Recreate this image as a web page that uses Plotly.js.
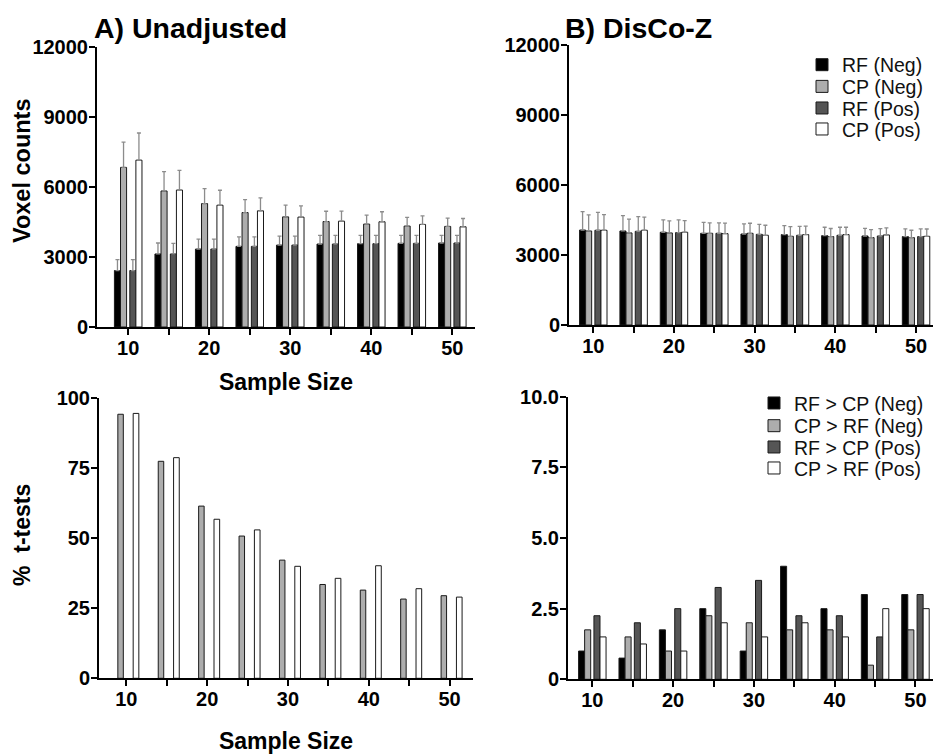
<!DOCTYPE html>
<html>
<head>
<meta charset="utf-8">
<script src="https://cdn.plot.ly/plotly-3.0.1.min.js"></script>
<style>html,body{margin:0;padding:0;background:#fff;}#chart{width:933px;height:755px;}</style>
</head>
<body>
<div id="chart"></div>
<script>
// ---------- data ----------
const sampleSizes = [10, 15, 20, 25, 30, 35, 40, 45, 50];
const noErr = [0, 0, 0, 0, 0, 0, 0, 0, 0];

// A) Unadjusted voxel counts (mean) and upper error
const aRfNeg    = [2420, 3130, 3340, 3455, 3510, 3555, 3570, 3585, 3600];
const aRfNegErr = [470, 470, 430, 410, 385, 370, 355, 340, 330];
const aCpNeg    = [6840, 5830, 5290, 4905, 4720, 4520, 4410, 4325, 4310];
const aCpNegErr = [1080, 825, 640, 555, 500, 440, 385, 370, 355];
const aRfPos    = [2420, 3130, 3340, 3455, 3510, 3555, 3570, 3585, 3600];
const aRfPosErr = [470, 450, 430, 410, 385, 370, 355, 340, 330];
const aCpPos    = [7150, 5870, 5220, 4980, 4710, 4535, 4510, 4395, 4295];
const aCpPosErr = [1165, 840, 640, 555, 485, 430, 430, 370, 355];

// B) DisCo-Z voxel counts
const bRfNeg    = [4070, 4030, 3975, 3930, 3900, 3875, 3830, 3815, 3790];
const bRfNegErr = [790, 660, 530, 470, 430, 385, 360, 330, 330];
const bCpNeg    = [4030, 3945, 3945, 3930, 3930, 3800, 3790, 3745, 3745];
const bCpNegErr = [690, 590, 515, 445, 430, 415, 345, 345, 315];
const bRfPos    = [4060, 4015, 3960, 3930, 3885, 3845, 3845, 3815, 3790];
const bRfPosErr = [770, 630, 545, 450, 430, 385, 345, 315, 330];
const bCpPos    = [4060, 4060, 3975, 3915, 3845, 3875, 3875, 3860, 3800];
const bCpPosErr = [670, 560, 500, 455, 430, 360, 315, 300, 315];

// C) Unadjusted % t-tests
const cCpRfNeg = [94.3, 77.5, 61.5, 50.8, 42.2, 33.5, 31.5, 28.3, 29.5];
const cCpRfPos = [94.6, 78.8, 56.8, 53.0, 40.0, 35.7, 40.2, 32.0, 29.0];

// D) DisCo-Z % t-tests
const dRfCpNeg = [1.0, 0.75, 1.75, 2.5, 1.0, 4.0, 2.5, 3.0, 3.0];
const dCpRfNeg = [1.75, 1.5, 1.0, 2.25, 2.0, 1.75, 1.75, 0.5, 1.75];
const dRfCpPos = [2.25, 2.0, 2.5, 3.25, 3.5, 2.25, 2.25, 1.5, 3.0];
const dCpRfPos = [1.5, 1.25, 1.0, 2.0, 1.5, 2.0, 1.5, 2.5, 2.5];

const xTickVals = [10, 20, 30, 40, 50];
const xMinorVals = [15, 25, 35, 45];
const voxelTicks = [0, 3000, 6000, 9000, 12000];
const voxelText = ['0', '3000', '6000', '9000', '12000'];
const pctTicksC = [0, 25, 50, 75, 100];
const pctTicksD = [0, 2.5, 5, 7.5, 10];
const pctTextD = ['0', '2.5', '5.0', '7.5', '10.0'];

// ---------- styles ----------
const FONT = 'Liberation Sans, Arial, Helvetica, sans-serif';
const C_BLACK = '#000000', C_LIGHT = '#adadad', C_DARK = '#555555', C_WHITE = '#ffffff';
const OUT = {color: '#1a1a1a', width: 1};
const W = 0.75;
const OFF = [-1.7, -0.95, 0.2, 0.95];

function errSpec(arr) {
  return {type: 'data', symmetric: false, array: arr, arrayminus: noErr,
          color: '#8c8c8c', thickness: 1.3, width: 2};
}
function bar(y, color, off, xa, ya, name, err, legend) {
  const t = {type: 'bar', x: sampleSizes, y: y, name: name, offset: off, width: W,
    marker: {color: color, line: OUT}, xaxis: xa, yaxis: ya,
    showlegend: !!legend, hoverinfo: 'skip'};
  if (err) t.error_y = errSpec(err);
  if (legend) t.legend = legend;
  return t;
}

const data = [
  bar(aRfNeg, C_BLACK, OFF[0], 'x', 'y', 'RF (Neg)', aRfNegErr),
  bar(aCpNeg, C_LIGHT, OFF[1], 'x', 'y', 'CP (Neg)', aCpNegErr),
  bar(aRfPos, C_DARK,  OFF[2], 'x', 'y', 'RF (Pos)', aRfPosErr),
  bar(aCpPos, C_WHITE, OFF[3], 'x', 'y', 'CP (Pos)', aCpPosErr),

  bar(bRfNeg, C_BLACK, OFF[0], 'x2', 'y2', 'RF (Neg)', bRfNegErr, 'legend'),
  bar(bCpNeg, C_LIGHT, OFF[1], 'x2', 'y2', 'CP (Neg)', bCpNegErr, 'legend2'),
  bar(bRfPos, C_DARK,  OFF[2], 'x2', 'y2', 'RF (Pos)', bRfPosErr, 'legend3'),
  bar(bCpPos, C_WHITE, OFF[3], 'x2', 'y2', 'CP (Pos)', bCpPosErr, 'legend4'),

  Object.assign(bar(cCpRfNeg, C_LIGHT, -1.05, 'x3', 'y3', 'CP > RF (Neg)'), {width: 0.68}),
  Object.assign(bar(cCpRfPos, C_WHITE, 0.85, 'x3', 'y3', 'CP > RF (Pos)'), {width: 0.7}),

  bar(dRfCpNeg, C_BLACK, OFF[0], 'x4', 'y4', 'RF > CP (Neg)', null, 'legend5'),
  bar(dCpRfNeg, C_LIGHT, OFF[1], 'x4', 'y4', 'CP > RF (Neg)', null, 'legend6'),
  bar(dRfCpPos, C_DARK,  OFF[2], 'x4', 'y4', 'RF > CP (Pos)', null, 'legend7'),
  bar(dCpRfPos, C_WHITE, OFF[3], 'x4', 'y4', 'CP > RF (Pos)', null, 'legend8')
];

const FW = 933, FH = 755;
const px = v => v / FW;
const py = v => 1 - v / FH;

const tickFont = {family: FONT, size: 20, color: '#000', weight: 'bold'};
const titleFont = {family: FONT, size: 23, color: '#000', weight: 'bold'};

function xAxis(dom, range, anchor, title, standoff) {
  const a = {domain: dom, range: range, anchor: anchor, showline: true, linewidth: 2, linecolor: '#000',
    showgrid: false, zeroline: false, tickmode: 'array', tickvals: xTickVals,
    ticks: 'outside', ticklen: 6, tickwidth: 2, tickcolor: '#000', tickfont: tickFont,
    ticklabelstandoff: -4,
    minor: {tickmode: 'array', tickvals: xMinorVals, ticks: 'outside', ticklen: 6, tickwidth: 2, tickcolor: '#000'},
    automargin: false, fixedrange: true};
  if (title) a.title = {text: title, font: titleFont, standoff: standoff};
  return a;
}
function yAxis(dom, range, anchor, vals, text) {
  return {domain: dom, range: range, anchor: anchor, showline: true, linewidth: 2, linecolor: '#000',
    showgrid: false, zeroline: false, tickmode: 'array', tickvals: vals, ticktext: text,
    ticks: 'outside', ticklen: 6, tickwidth: 2, tickcolor: '#000', tickfont: tickFont,
    ticklabelstandoff: -3,
    automargin: false, fixedrange: true};
}
function leg(textLeft, yCenter) {
  return {x: px(textLeft - 40), xanchor: 'left', y: py(yCenter), yanchor: 'middle',
          bgcolor: 'rgba(0,0,0,0)', borderwidth: 0,
          font: {family: FONT, size: 19.5, color: '#111'}};
}

const layout = {
  width: FW, height: FH,
  margin: {l: 0, r: 0, t: 0, b: 0, pad: 0},
  paper_bgcolor: '#fff', plot_bgcolor: '#fff',
  barmode: 'overlay',
  font: {family: FONT, color: '#000'},
  title: {text: 'A) Unadjusted', x: px(94), xanchor: 'left', xref: 'paper',
          y: py(28), yanchor: 'middle', yref: 'paper', automargin: false,
          font: {family: FONT, size: 28.5, color: '#000', weight: 'bold'}},
  xaxis:  xAxis([px(97), px(475)], [6.15, 52.8], 'y', 'Sample Size', 16),
  yaxis:  yAxis([py(327), py(47)], [0, 12000], 'x', voxelTicks, voxelText),
  xaxis2: xAxis([px(569), 1], [6.99, 52.1], 'y2'),
  yaxis2: yAxis([py(325), py(45)], [0, 12000], 'x2', voxelTicks, voxelText),
  xaxis3: xAxis([px(99), px(473)], [6.62, 52.9], 'y3', 'Sample Size', 24),
  yaxis3: yAxis([py(678.3), py(398.3)], [0, 100], 'x3', pctTicksC, ['0', '25', '50', '75', '100']),
  xaxis4: xAxis([px(568), 1], [6.99, 52.17], 'y4'),
  yaxis4: yAxis([py(679.3), py(396.7)], [0, 10], 'x4', pctTicksD, pctTextD),
  legend:  leg(842, 65),
  legend2: leg(842, 86.7),
  legend3: leg(842, 108.3),
  legend4: leg(842, 129.3),
  legend5: leg(794, 403.3),
  legend6: leg(794, 426),
  legend7: leg(794, 447.3),
  legend8: leg(794, 468.3),
  annotations: [
    {text: 'B) DisCo-Z', xref: 'paper', yref: 'paper', x: px(563), y: py(28),
     xanchor: 'left', yanchor: 'middle', showarrow: false,
     font: {family: FONT, size: 28.5, color: '#000', weight: 'bold'}},
    {text: 'Voxel counts', xref: 'paper', yref: 'paper', x: px(22), y: py(171),
     xanchor: 'center', yanchor: 'middle', textangle: -90, showarrow: false,
     font: {family: FONT, size: 23.5, color: '#000', weight: 'bold'}},
    {text: '%  t-tests', xref: 'paper', yref: 'paper', x: px(22), y: py(535),
     xanchor: 'center', yanchor: 'middle', textangle: -90, showarrow: false,
     font: {family: FONT, size: 23, color: '#000', weight: 'bold'}}
  ],
  showlegend: true,
  hovermode: false
};

Plotly.newPlot('chart', data, layout, {staticPlot: true, displayModeBar: false});
</script>
</body>
</html>
